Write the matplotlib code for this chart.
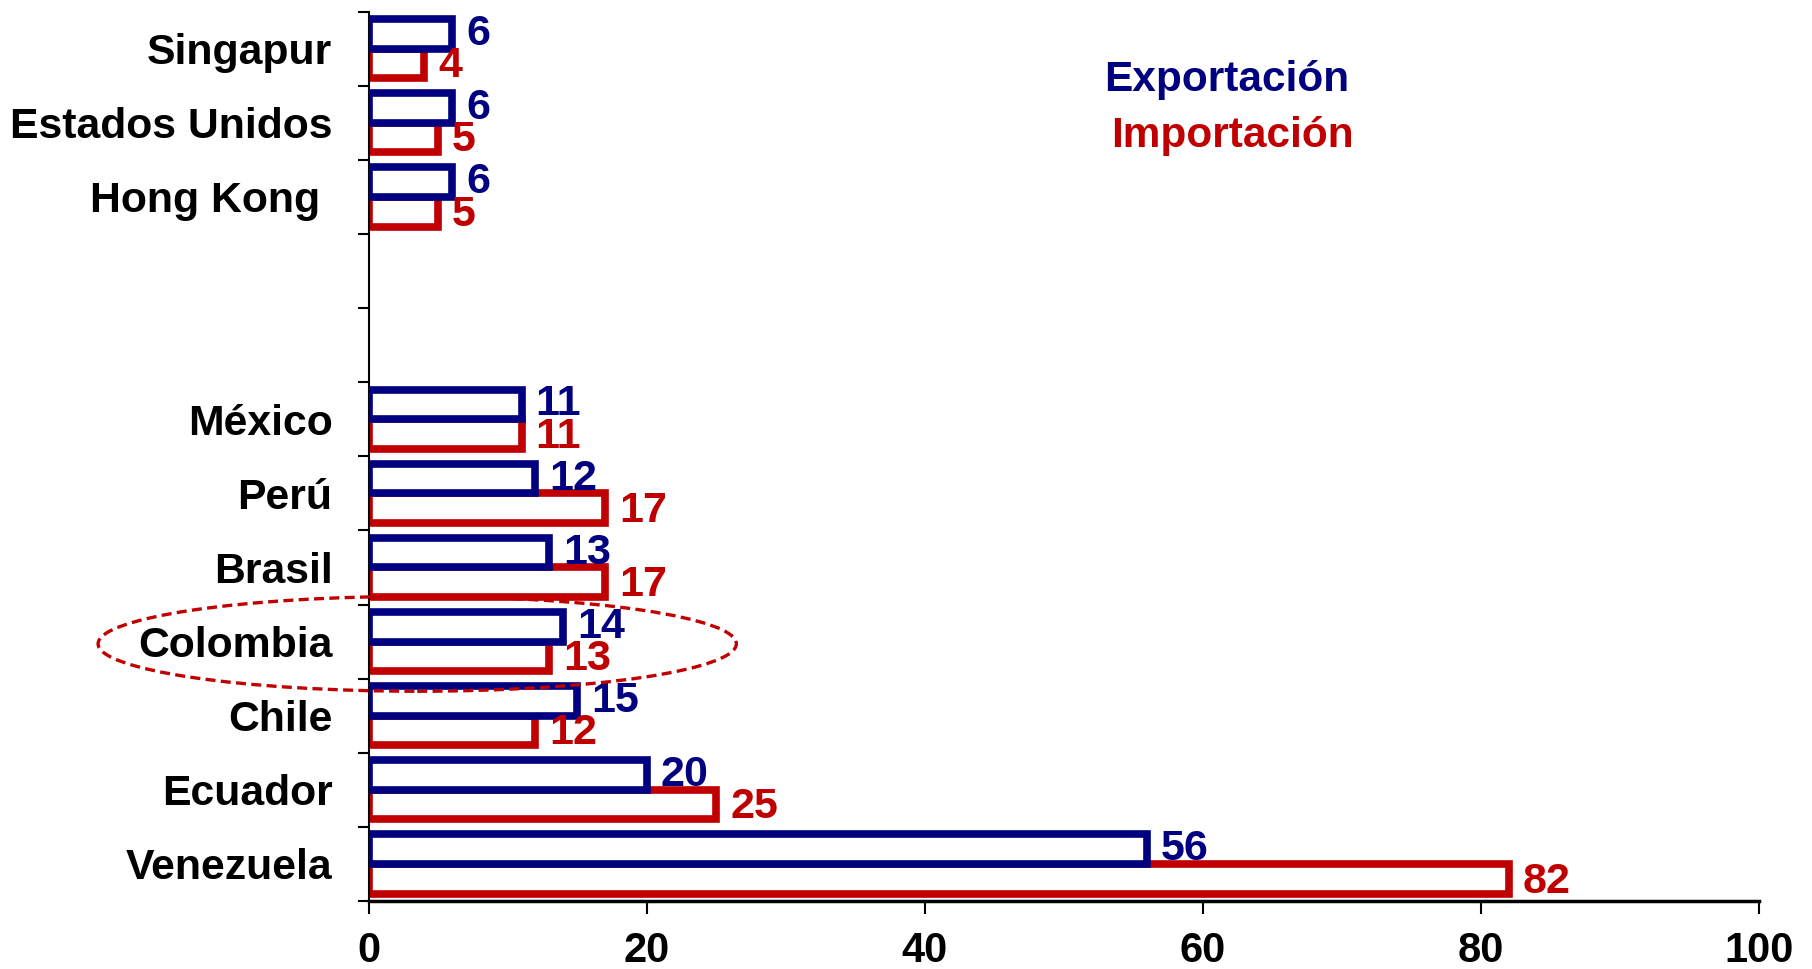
import numpy as np
import matplotlib
matplotlib.use("Agg")
import matplotlib.pyplot as plt
from matplotlib.patches import Ellipse

plt.rcParams['font.family'] = ['Liberation Sans', 'DejaVu Sans']
plt.rcParams['font.weight'] = 'bold'

# Data (top to bottom as displayed)
categories = ['Singapur', 'Estados Unidos', 'Hong Kong ', '', '', 'México', 'Perú',
              'Brasil', 'Colombia', 'Chile', 'Ecuador', 'Venezuela']
exportacion = [6, 6, 6, np.nan, np.nan, 11, 12, 13, 14, 15, 20, 56]
importacion = [4, 5, 5, np.nan, np.nan, 11, 17, 17, 13, 12, 25, 82]
xticks = [0, 20, 40, 60, 80, 100]

BLUE = '#000080'
RED = '#C00000'

fig = plt.figure(figsize=(18.12, 9.69), dpi=100)
ax = fig.add_axes([0.2034, 0.0702, 0.9708 - 0.2034, 0.988 - 0.0702])

n = len(categories)
ypos = np.arange(n)[::-1]  # top category gets highest y

bh = 0.4
lw = 5.5
for y, e, i in zip(ypos, exportacion, importacion):
    if not np.isnan(i):
        ax.barh(y - bh / 2, i, height=bh, facecolor='white', edgecolor=RED,
                linewidth=lw, zorder=2)
        ax.annotate(f'{i:g}', xy=(i, y - bh / 2), xytext=(10, -2),
                    textcoords='offset points', ha='left', va='center',
                    color=RED, fontsize=31, fontweight='bold', zorder=5)
    if not np.isnan(e):
        ax.barh(y + bh / 2, e, height=bh, facecolor='white', edgecolor=BLUE,
                linewidth=lw, zorder=3)
        ax.annotate(f'{e:g}', xy=(e, y + bh / 2), xytext=(10, 0),
                    textcoords='offset points', ha='left', va='center',
                    color=BLUE, fontsize=31, fontweight='bold', zorder=5)

ax.set_xlim(0, 100)
ax.set_ylim(-0.5, n - 0.5)

ax.set_xticks(xticks)
ax.set_xticklabels([str(t) for t in xticks], fontsize=30, fontweight='bold')
ax.tick_params(axis='x', direction='out', length=9.5, width=1.5, pad=12)

# category labels at centers, tick marks at boundaries
ax.set_yticks(ypos)
ax.set_yticklabels(categories, fontsize=30.8, fontweight='bold')
ax.tick_params(axis='y', which='major', length=0, pad=26)
ax.set_yticks(np.arange(-0.5, n, 1.0), minor=True)
ax.tick_params(axis='y', which='minor', direction='out', length=8, width=1.5)

for s in ['top', 'right']:
    ax.spines[s].set_visible(False)
ax.spines['left'].set_linewidth(1.5)
ax.spines['bottom'].set_linewidth(2.5)

# Highlight ellipse around Colombia
col_idx = categories.index('Colombia')
ell = Ellipse((3.5, ypos[col_idx] - 0.03), width=45.9, height=1.28,
              facecolor='none', edgecolor=RED, linewidth=2.4,
              linestyle=(0, (3, 1.6)), clip_on=False, zorder=6)
ax.add_patch(ell)

# Legend-like texts
fig.text(0.677, 0.917, 'Exportación', color=BLUE, fontsize=30.5,
         fontweight='bold', ha='center', va='center')
fig.text(0.680, 0.8595, 'Importación', color=RED, fontsize=30.5,
         fontweight='bold', ha='center', va='center')

fig.savefig('out.png', dpi=100)
